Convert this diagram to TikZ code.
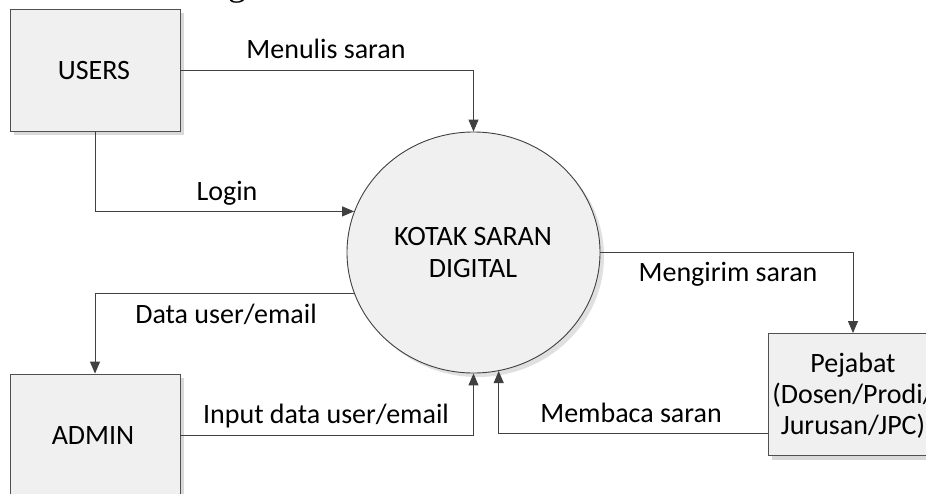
\documentclass[tikz,border=0pt]{standalone}
\usepackage{fontspec}
\setmainfont{Carlito}
\newfontfamily\capfont{Liberation Serif}
\usetikzlibrary{shapes.geometric,arrows.meta,shadows}
\definecolor{boxfill}{HTML}{F0F0F0}
\definecolor{edge}{HTML}{505050}
\definecolor{lineclr}{HTML}{404040}
\tikzset{
  lbl/.style={anchor=base,inner sep=0pt,font=\fontsize{28}{33}\selectfont},
  entity/.style={draw=edge,fill=boxfill,line width=0.9pt,minimum width=170pt,minimum height=122pt,inner sep=0pt,
    drop shadow={shadow xshift=4pt,shadow yshift=-4pt,fill=black!15,opacity=1}},
  proc/.style={draw=lineclr,fill=boxfill,line width=0.9pt,ellipse,minimum width=253pt,minimum height=241pt,inner sep=0pt,
    drop shadow={shadow xshift=4pt,shadow yshift=-4pt,fill=black!12,opacity=1}},
  flow/.style={draw=lineclr,line width=1pt,-{Triangle[length=12pt,width=10pt]}},
}
\begin{document}
\begin{tikzpicture}[x=1pt,y=-1pt]
\useasboundingbox (0,0) rectangle (926,493);
\clip (0,0) rectangle (926,493);
\fill[white] (0,0) rectangle (926,493);
% cut-off caption fragment
\node[anchor=base,inner sep=0pt,font=\capfont\fontsize{36}{40}\selectfont] (capg) at (237,-5) {g};
% shapes
\node[entity] (users) at (95,70) {};
\node[entity] (admin) at (95,435) {};
\node[entity] (pejabat) at (853,394.5) {};
\node[proc] (kotak) at (473.5,252.5) {};
% texts
\node[lbl] (tusers) at (94,79) {USERS};
\node[lbl] (tadmin) at (93,444) {ADMIN};
\node[lbl] (tk1) at (473,245) {KOTAK SARAN};
\node[lbl] (tk2) at (473,277) {DIGITAL};
\node[lbl] (tp1) at (853,372) {Pejabat};
\node[lbl] (tp2) at (853,403) {(Dosen/Prodi/};
\node[lbl] (tp3) at (853,434) {Jurusan/JPC)};
% connectors
\draw[flow] (users.east) -| (kotak.north);
\draw[flow] (users.south) |- (kotak.161);
\draw[flow] (kotak.199) -| (admin.north);
\draw[flow] (admin.east) -| (kotak.south);
\draw[flow] (kotak.east) -| (pejabat.north);
\coordinate (pj) at ([yshift=-38.5pt]pejabat.west);
\draw[flow] (pj) -| (kotak.-78);
% labels
\node[lbl] (l1) at (326,58) {Menulis saran};
\node[lbl] (l2) at (227,200) {Login};
\node[lbl] (l3) at (226,323) {Data user/email};
\node[lbl] (l4) at (326,423) {Input data user/email};
\node[lbl] (l5) at (728,281) {Mengirim saran};
\node[lbl] (l6) at (631,422) {Membaca saran};
\end{tikzpicture}
\end{document}
